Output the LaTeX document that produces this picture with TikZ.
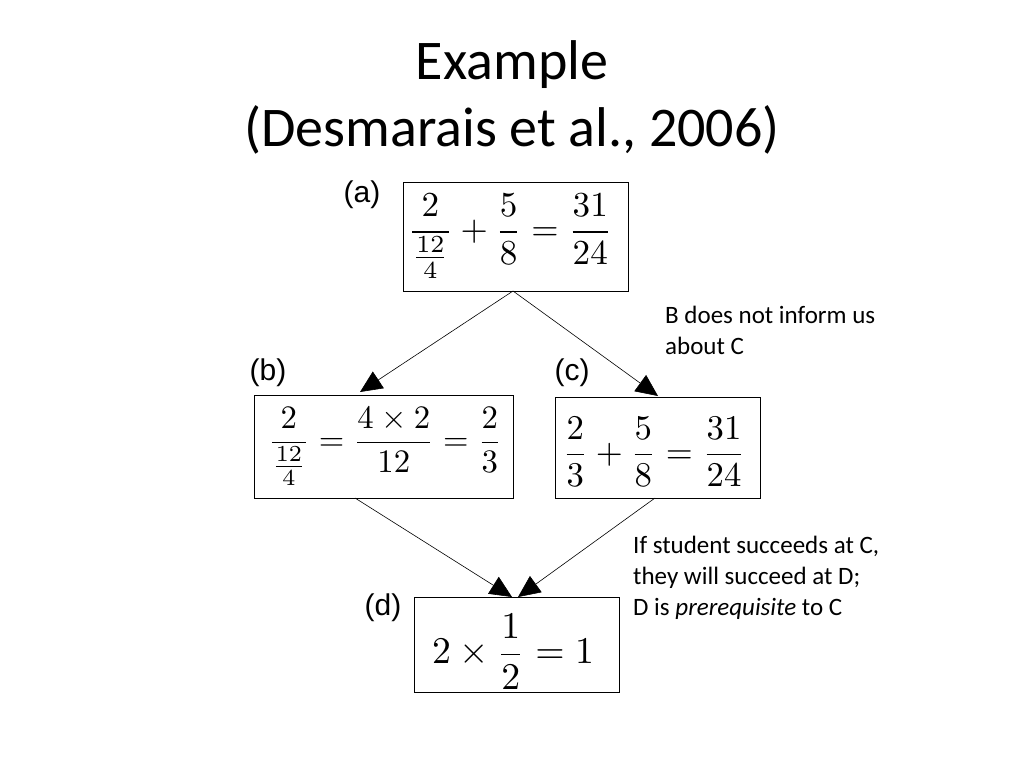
\documentclass[tikz,border=0pt]{standalone}
\usepackage{fontspec}
\usepackage{graphicx}
\setmainfont{Carlito}
\newfontfamily\labfont{Liberation Sans}
\usetikzlibrary{arrows.meta}
\begin{document}
\begin{tikzpicture}[x=1pt,y=-1pt,
  box/.style={draw,line width=0.8pt,inner sep=0pt},
  lab/.style={font=\labfont\fontsize{30}{34}\selectfont},
  note/.style={font=\fontsize{25}{31}\selectfont,align=left,anchor=north west,inner sep=0pt},
  arr/.style={line width=0.6pt,-{Triangle[length=22pt,width=20pt]},shorten <=0pt},
  mth/.style={inner sep=0pt}]
\useasboundingbox (0,0) rectangle (1024,768);
\node[font=\fontsize{56}{60}\selectfont] (t1) at (512,65) {Example};
\node[font=\fontsize{56}{60}\selectfont] (t2) at (512,130) {(Desmarais et al., 2006)};
\draw[box] (403,182) rectangle (628,291);
\node[mth] (ma) at (510,236.5) {\resizebox{204pt}{!}{$\displaystyle\frac{2}{\frac{12}{4}}+\frac{5}{8}=\frac{31}{24}$}};
\draw[box] (254,395) rectangle (513,498);
\node[mth] (mb) at (385,446.5) {\resizebox{234pt}{!}{$\displaystyle\frac{2}{\frac{12}{4}}=\frac{4\times2}{12}=\frac{2}{3}$}};
\draw[box] (555,397) rectangle (760,498);
\node[mth] (mc) at (654,452) {\resizebox{183pt}{!}{$\displaystyle\frac{2}{3}+\frac{5}{8}=\frac{31}{24}$}};
\draw[box] (414,597) rectangle (619,692);
\node[mth] (md) at (513,652) {\resizebox{162pt}{!}{$\displaystyle 2\times\frac{1}{2}=1$}};
\node[lab] (la) at (362,195) {(a)};
\node[lab] (lb) at (268,373) {(b)};
\node[lab] (lc) at (572,373) {(c)};
\node[lab] (ld) at (383,608) {(d)};
\coordinate (abot) at (513,291);
\coordinate (btop) at (360,392);
\coordinate (ctop) at (658,396);
\coordinate (bbot) at (355,498);
\coordinate (cbot) at (655,498);
\coordinate (dtop1) at (512,597);
\coordinate (dtop2) at (518,597);
\draw[arr] (abot) -- (btop);
\draw[arr] (abot) -- (ctop);
\draw[arr] (bbot) -- (dtop1);
\draw[arr] (cbot) -- (dtop2);
\node[note] (n1) at (665,306) {B does not inform us\\about C};
\node[note] (n2) at (633,536) {If student succeeds at C,\\they will succeed at D;\\D is \textit{prerequisite} to C};
\end{tikzpicture}
\end{document}
